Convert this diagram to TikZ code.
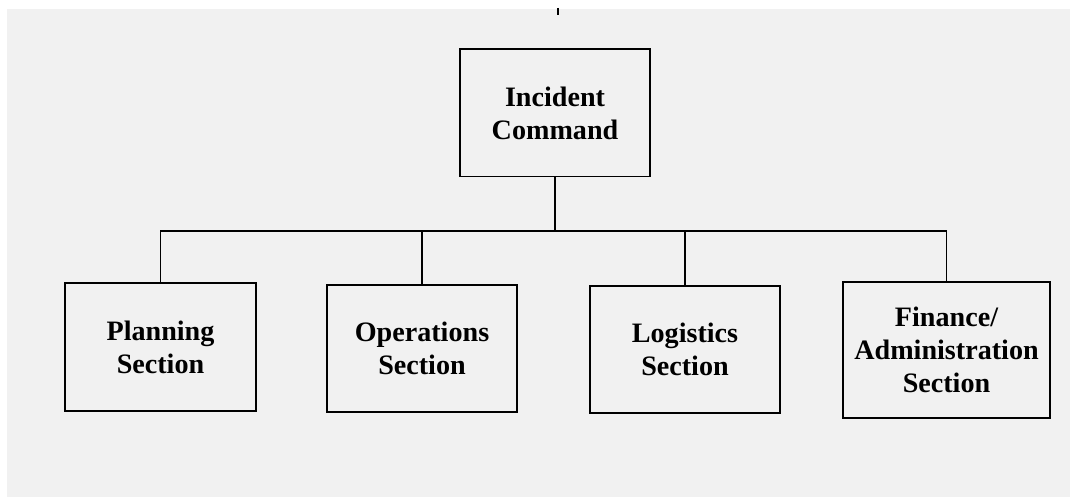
\documentclass[tikz,border=0pt]{standalone}
\usepackage{fontspec}
\setmainfont{Liberation Serif}
\usepackage{tikz}
\definecolor{paper}{gray}{0.945}

\begin{document}
\begin{tikzpicture}[x=0.025cm,y=-0.025cm,
   box/.style={draw,line width=1.4pt,align=center,inner sep=0pt,
      minimum width=4.75cm,minimum height=3.175cm,
      font=\fontsize{20}{23.5}\selectfont\bfseries},
   bigbox/.style={box,minimum width=5.175cm,minimum height=3.4cm},
   link/.style={line width=1.4pt}]
   % scanned sheet
   \fill[white] (0,0) rectangle (1070,497);
   \fill[paper] (7,9) rectangle (1070,497);
   \useasboundingbox (0,0) rectangle (1070,497);
   % stray mark above the chart
   \coordinate (marktop) at (558,8);
   \coordinate (markbot) at (558,15);
   \draw[line width=1.6pt] (marktop) -- (markbot);
   % boxes
   \node[box] (ic)   at (555,113)   {Incident\\Command};
   \node[box] (plan) at (160.5,347) {Planning\\Section};
   \node[box] (ops)  at (422,348.5) {Operations\\Section};
   \node[box] (log)  at (685,349.5) {Logistics\\Section};
   \node[bigbox] (fin) at (946.5,350) {Finance/\\Administration\\Section};
   % tree lines
   \coordinate (bus) at (555,231);
   \draw[link] (ic.south) -- (bus);
   \draw[link] (plan.north) |- (bus) -| (fin.north);
   \draw[link] (ops.north) -- (ops.north |- bus);
   \draw[link] (log.north) -- (log.north |- bus);
\end{tikzpicture}
\end{document}
